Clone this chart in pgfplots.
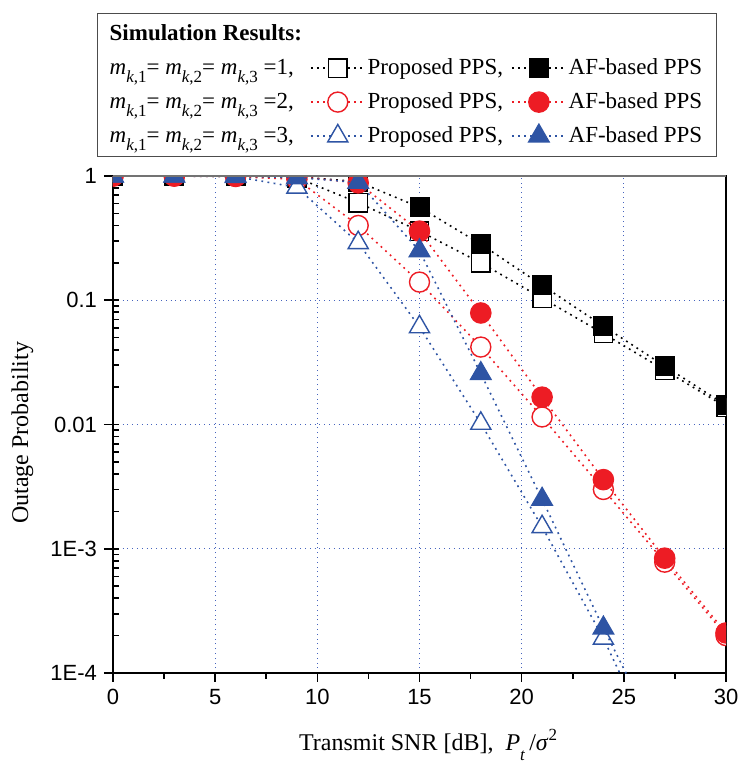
\documentclass[border=0pt]{standalone}
\usepackage{fontspec}
\setmainfont{Liberation Serif}
\newfontfamily\arial{Liberation Sans}
\usepackage{pgfplots}
\pgfplotsset{compat=1.18}
\definecolor{myred}{RGB}{237,28,36}
\definecolor{myblue}{RGB}{46,84,164}
\definecolor{gridblue}{RGB}{70,100,190}
\newcommand{\mk}[1]{\textit{m}\raisebox{-0.8ex}{\fontsize{8.5}{9}\selectfont\textit{k},#1}}
\begin{document}
\begin{tikzpicture}
\begin{axis}[
  name=ax,
  scale only axis,
  width=306.5pt, height=248.5pt,
  ymode=log,
  xmin=0, xmax=30, ymin=1e-4, ymax=1,
  xtick={0,5,...,30}, minor x tick num=1,
  ytick={1e-4,1e-3,1e-2,1e-1,1},
  yticklabels={1E-4,1E-3,0.01,0.1,1},
  /pgf/number format/assume math mode=true,
  tick label style={font=\arial\fontsize{11}{13}\selectfont},
  tick align=outside, tick pos=left,
  major tick length=4.5pt, minor tick length=2.8pt,
  every minor y tick/.append style={xshift=2.8pt},
  tick style={black, line width=0.8pt},
  axis line style={line width=1pt},
  grid=major,
  major grid style={gridblue, dotted, line width=0.6pt},
  clip=true, clip marker paths=true,
  xlabel={Transmit SNR [dB],\ \ \textit{P}\raisebox{-0.9ex}{\fontsize{8.5}{9}\selectfont\textit{t}}\,/\textit{σ}\raisebox{0.9ex}{\fontsize{8.5}{9}\selectfont 2}},
  ylabel={Outage Probability},
  every axis x label/.style={at={(axis description cs:0.514,-0.145)}, anchor=center, font=\fontsize{12}{14}\selectfont},
  every axis y label/.style={at={(axis description cs:-0.148,0.483)}, rotate=90, anchor=center, font=\fontsize{12}{14}\selectfont},
  legend columns=3,
  legend cell align=left,
  legend image code/.code={\draw[mark repeat=2,mark phase=2] plot coordinates {(0pt,0pt) (13.5pt,0pt) (27pt,0pt)};},
  legend style={at={(axis description cs:-0.026,1.038)}, anchor=south west,
    draw=black!70, line width=0.6pt, font=\fontsize{11.5}{13.5}\selectfont,
    row sep=3.5pt, inner xsep=5pt, inner ysep=3.5pt,
    /tikz/every odd column/.append style={column sep=-1pt},
    /tikz/every even column/.append style={column sep=2pt}},
]
\addlegendimage{empty legend}\addlegendentry{\textbf{Simulation Results:}}
\addlegendimage{empty legend}\addlegendentry{}
\addlegendimage{empty legend}\addlegendentry{}
\addlegendimage{empty legend}\addlegendentry{\mk{1}= \mk{2}= \mk{3} =1,}
\addplot[black, line width=0.8pt, dash pattern=on 0.9pt off 2.2pt, mark=square*, mark size=4.6pt,
  mark options={solid, fill=white, draw=black, line width=0.7pt}] table {
x y
0 0.999
3 0.999
6 0.995
9 0.97
12 0.61
15 0.36
18 0.20
21 0.104
24 0.054
27 0.0274
30 0.0138
};
\addlegendentry{Proposed PPS,}
\addplot[black, line width=0.8pt, dash pattern=on 0.9pt off 2.2pt, mark=square*, mark size=4.6pt,
  mark options={solid, fill=black, draw=black}] table {
x y
0 0.999
3 0.999
6 0.999
9 0.99
12 0.90
15 0.56
18 0.283
21 0.132
24 0.062
27 0.0295
30 0.0143
};
\addlegendentry{AF-based PPS}
\addlegendimage{empty legend}\addlegendentry{\mk{1}= \mk{2}= \mk{3} =2,}
\addplot[myred, line width=0.8pt, dash pattern=on 0.9pt off 2.2pt, mark=*, mark size=5pt,
  mark options={solid, fill=white, draw=myred, line width=0.7pt}] table {
x y
0 0.999
3 0.999
6 0.99
9 0.94
12 0.40
15 0.14
18 0.042
21 0.0115
24 0.0030
27 0.00078
30 0.00020
};
\addlegendentry{Proposed PPS,}
\addplot[myred, line width=0.8pt, dash pattern=on 0.9pt off 2.2pt, mark=*, mark size=5pt,
  mark options={solid, fill=myred, draw=myred}] table {
x y
0 0.999
3 0.999
6 0.999
9 0.99
12 0.88
15 0.36
18 0.079
21 0.0166
24 0.0036
27 0.00084
30 0.00021
};
\addlegendentry{AF-based PPS}
\addlegendimage{empty legend}\addlegendentry{\mk{1}= \mk{2}= \mk{3} =3,}
\addplot[myblue, line width=0.8pt, dash pattern=on 0.9pt off 2.2pt, mark=triangle*, mark size=5.8pt,
  mark options={solid, fill=white, draw=myblue, line width=0.7pt}] table {
x y
0 0.999
3 0.999
6 0.99
9 0.81
12 0.29
15 0.061
18 0.0102
21 0.0015
24 0.00019
27 0.000017
30 0.000002
};
\addlegendentry{Proposed PPS,}
\addplot[myblue, line width=0.8pt, dash pattern=on 0.9pt off 2.2pt, mark=triangle*, mark size=5.8pt,
  mark options={solid, fill=myblue, draw=myblue}] table {
x y
0 0.999
3 0.999
6 0.999
9 0.97
12 0.89
15 0.25
18 0.0257
21 0.0025
24 0.00023
27 0.000024
30 0.0000025
};
\addlegendentry{AF-based PPS}
\end{axis}
\draw[black!55, line width=1pt] (ax.north west) -- (ax.north east);
\pgfresetboundingbox
\path ([xshift=-56.5pt,yshift=-45.5pt]ax.south west) rectangle ([xshift=7pt,yshift=88pt]ax.north east);
\end{tikzpicture}
\end{document}
